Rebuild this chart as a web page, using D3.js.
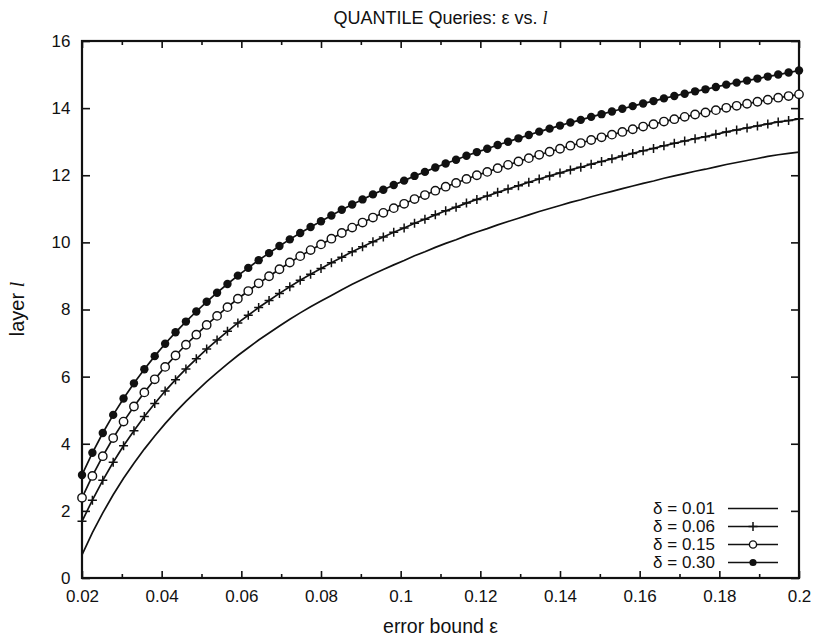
<!DOCTYPE html>
<html>
<head>
<meta charset="utf-8">
<script src="https://cdn.jsdelivr.net/npm/d3@7"></script>
<style>
  html, body { margin: 0; padding: 0; background: #fff; }
  svg { display: block; }
  text { font-family: "Liberation Sans", Arial, Helvetica, sans-serif; fill: #111; }
</style>
</head>
<body>
<svg id="chart" width="818" height="638"></svg>
<script>
// ---- data ----
const epsilon = [
  0.02000, 0.02261, 0.02522, 0.02783, 0.03043, 0.03304, 0.03565, 0.03826, 0.04087, 0.04348,
  0.04609, 0.04870, 0.05130, 0.05391, 0.05652, 0.05913, 0.06174, 0.06435, 0.06696, 0.06957,
  0.07217, 0.07478, 0.07739, 0.08000, 0.08261, 0.08522, 0.08783, 0.09043, 0.09304, 0.09565,
  0.09826, 0.10087, 0.10348, 0.10609, 0.10870, 0.11130, 0.11391, 0.11652, 0.11913, 0.12174,
  0.12435, 0.12696, 0.12957, 0.13217, 0.13478, 0.13739, 0.14000, 0.14261, 0.14522, 0.14783,
  0.15043, 0.15304, 0.15565, 0.15826, 0.16087, 0.16348, 0.16609, 0.16870, 0.17130, 0.17391,
  0.17652, 0.17913, 0.18174, 0.18435, 0.18696, 0.18957, 0.19217, 0.19478, 0.19739, 0.20000
];
const layerDelta001 = [
  0.69, 1.35, 1.94, 2.48, 2.97, 3.42, 3.84, 4.23, 4.60, 4.94,
  5.26, 5.56, 5.85, 6.12, 6.38, 6.63, 6.86, 7.09, 7.30, 7.51,
  7.71, 7.90, 8.08, 8.25, 8.42, 8.59, 8.75, 8.90, 9.05, 9.19,
  9.33, 9.46, 9.60, 9.72, 9.85, 9.97, 10.08, 10.20, 10.31, 10.41,
  10.52, 10.62, 10.72, 10.82, 10.92, 11.01, 11.10, 11.19, 11.27, 11.36,
  11.44, 11.52, 11.60, 11.68, 11.76, 11.83, 11.91, 11.98, 12.05, 12.12,
  12.18, 12.25, 12.32, 12.38, 12.44, 12.50, 12.56, 12.61, 12.65, 12.69
];
const layerDelta006 = [
  1.69, 2.32, 2.91, 3.45, 3.94, 4.39, 4.81, 5.20, 5.57, 5.91,
  6.23, 6.53, 6.82, 7.09, 7.35, 7.60, 7.83, 8.06, 8.27, 8.48,
  8.68, 8.87, 9.05, 9.22, 9.39, 9.56, 9.72, 9.87, 10.02, 10.16,
  10.30, 10.43, 10.57, 10.69, 10.82, 10.94, 11.05, 11.17, 11.28, 11.38,
  11.49, 11.59, 11.69, 11.79, 11.89, 11.98, 12.07, 12.16, 12.24, 12.33,
  12.41, 12.49, 12.57, 12.65, 12.73, 12.80, 12.88, 12.95, 13.02, 13.09,
  13.15, 13.22, 13.29, 13.35, 13.41, 13.47, 13.53, 13.59, 13.63, 13.68
];
const layerDelta015 = [
  2.39, 3.04, 3.63, 4.17, 4.66, 5.11, 5.53, 5.92, 6.29, 6.63,
  6.95, 7.25, 7.54, 7.81, 8.07, 8.32, 8.55, 8.78, 8.99, 9.20,
  9.40, 9.59, 9.77, 9.94, 10.11, 10.28, 10.44, 10.59, 10.74, 10.88,
  11.02, 11.15, 11.29, 11.41, 11.54, 11.66, 11.77, 11.89, 12.00, 12.10,
  12.21, 12.31, 12.41, 12.51, 12.61, 12.70, 12.79, 12.88, 12.96, 13.05,
  13.13, 13.21, 13.29, 13.37, 13.45, 13.52, 13.60, 13.67, 13.74, 13.81,
  13.87, 13.94, 14.01, 14.07, 14.13, 14.19, 14.25, 14.31, 14.36, 14.41
];
const layerDelta030 = [
  3.07, 3.73, 4.32, 4.86, 5.35, 5.80, 6.22, 6.61, 6.98, 7.32,
  7.64, 7.94, 8.23, 8.50, 8.76, 9.01, 9.24, 9.47, 9.68, 9.89,
  10.09, 10.28, 10.46, 10.63, 10.80, 10.97, 11.13, 11.28, 11.43, 11.57,
  11.71, 11.84, 11.98, 12.10, 12.23, 12.35, 12.46, 12.58, 12.69, 12.79,
  12.90, 13.00, 13.10, 13.20, 13.30, 13.39, 13.48, 13.57, 13.65, 13.74,
  13.82, 13.90, 13.98, 14.06, 14.14, 14.21, 14.29, 14.36, 14.43, 14.50,
  14.56, 14.63, 14.70, 14.76, 14.82, 14.88, 14.94, 15.00, 15.06, 15.12
];
const seriesNames = ["δ = 0.01", "δ = 0.06", "δ = 0.15", "δ = 0.30"];
const seriesMarkers = ["none", "plus", "open", "filled"];
const xTicks = [0.02, 0.04, 0.06, 0.08, 0.1, 0.12, 0.14, 0.16, 0.18, 0.2];
const xTickLabels = ["0.02", "0.04", "0.06", "0.08", "0.1", "0.12", "0.14", "0.16", "0.18", "0.2"];
const xMinorTicks = [0.03, 0.05, 0.07, 0.09, 0.11, 0.13, 0.15, 0.17, 0.19];
const yTicks = [0, 2, 4, 6, 8, 10, 12, 14, 16];
const yTickLabels = ["0", "2", "4", "6", "8", "10", "12", "14", "16"];

// ---- layout ----
const L = 82, R = 799, T = 41, B = 578;
const ink = "#111";
const svg = d3.select("#chart");
const x = d3.scaleLinear().domain([0.02, 0.2]).range([L, R]);
const y = d3.scaleLinear().domain([0, 16]).range([B, T]);

const series = [layerDelta001, layerDelta006, layerDelta015, layerDelta030].map((vals, k) => ({
  name: seriesNames[k],
  marker: seriesMarkers[k],
  points: epsilon.map((e, i) => ({ e, v: vals[i] }))
}));

// axes
function styleAxis(g) {
  g.select(".domain").remove();
  g.selectAll(".tick line").attr("stroke", ink).attr("stroke-width", 1.6);
  g.selectAll(".tick text").attr("fill", ink).style("font-size", "17px")
    .style("font-family", "'Liberation Sans', Arial, sans-serif");
}
svg.append("g").attr("transform", `translate(0,${B})`)
  .call(d3.axisBottom(x).tickValues(xTicks).tickSize(-7).tickPadding(12)
    .tickFormat((d, i) => xTickLabels[i]))
  .call(styleAxis);
svg.append("g").attr("transform", `translate(0,${B})`)
  .call(d3.axisBottom(x).tickValues(xMinorTicks).tickSize(-4).tickFormat(""))
  .call(styleAxis);
svg.append("g").attr("transform", `translate(0,${T})`)
  .call(d3.axisTop(x).tickValues(xTicks).tickSize(-7).tickFormat(""))
  .call(styleAxis);
svg.append("g").attr("transform", `translate(0,${T})`)
  .call(d3.axisTop(x).tickValues(xMinorTicks).tickSize(-4).tickFormat(""))
  .call(styleAxis);
svg.append("g").attr("transform", `translate(${L},0)`)
  .call(d3.axisLeft(y).tickValues(yTicks).tickSize(-8).tickPadding(11.5)
    .tickFormat((d, i) => yTickLabels[i]))
  .call(styleAxis);
svg.append("g").attr("transform", `translate(${R},0)`)
  .call(d3.axisRight(y).tickValues(yTicks).tickSize(-8).tickFormat(""))
  .call(styleAxis);

// frame
svg.append("rect").attr("x", L).attr("y", T).attr("width", R - L).attr("height", B - T)
  .attr("fill", "none").attr("stroke", ink).attr("stroke-width", 2.2);

// lines
const line = d3.line().x(d => x(d.e)).y(d => y(d.v));
const plot = svg.append("g");
series.forEach(s => {
  plot.append("path").datum(s.points).attr("d", line)
    .attr("fill", "none").attr("stroke", ink).attr("stroke-width", 1.7);
});

function drawMarker(g, type, cx, cy, size) {
  if (type === "plus") {
    g.append("path").attr("d", `M${cx - size},${cy}H${cx + size}M${cx},${cy - size}V${cy + size}`)
      .attr("stroke", ink).attr("stroke-width", 1.5).attr("fill", "none");
  } else if (type === "open") {
    g.append("circle").attr("cx", cx).attr("cy", cy).attr("r", size)
      .attr("fill", "#fff").attr("stroke", ink).attr("stroke-width", 1.4);
  } else if (type === "filled") {
    g.append("circle").attr("cx", cx).attr("cy", cy).attr("r", size).attr("fill", ink);
  }
}
series.forEach(s => {
  if (s.marker === "none") return;
  const g = plot.append("g");
  s.points.forEach(p => drawMarker(g, s.marker, x(p.e), y(p.v), s.marker === "plus" ? 4.5 : 4.2));
});

// legend
const legend = svg.append("g");
series.forEach((s, k) => {
  const cy = 508.5 + k * 18;
  legend.append("text").attr("x", 715).attr("y", cy).attr("dy", "0.35em")
    .attr("text-anchor", "end").style("font-size", "17px").text(s.name);
  legend.append("line").attr("x1", 728).attr("x2", 778).attr("y1", cy).attr("y2", cy)
    .attr("stroke", ink).attr("stroke-width", 1.6);
  drawMarker(legend, s.marker, 753, cy, s.marker === "plus" ? 4.5 : 3.6);
});

// title and axis labels
const title = svg.append("text").attr("x", 440.5).attr("y", 24).attr("text-anchor", "middle")
  .style("font-size", "18px");
title.append("tspan").text("QUANTILE Queries: ε vs. ");
title.append("tspan").style("font-family", "'Liberation Serif', 'Times New Roman', serif")
  .style("font-style", "italic").text("l");

svg.append("text").attr("x", 440.5).attr("y", 633).attr("text-anchor", "middle")
  .style("font-size", "19.5px").text("error bound ε");

const yl = svg.append("text").attr("transform", "translate(24,309) rotate(-90)")
  .attr("text-anchor", "middle").style("font-size", "20px");
yl.append("tspan").text("layer ");
yl.append("tspan").style("font-family", "'Liberation Serif', 'Times New Roman', serif")
  .style("font-style", "italic").text("l");
</script>
</body>
</html>
